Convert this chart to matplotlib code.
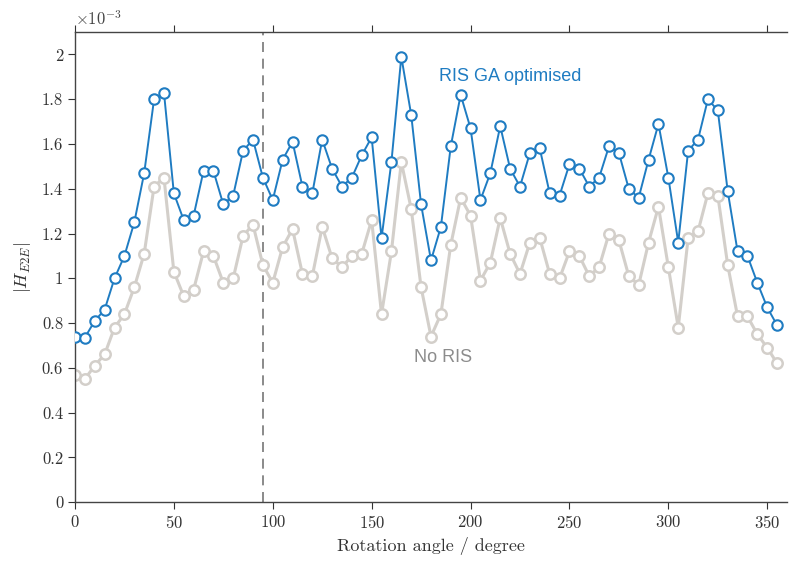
import numpy as np
import matplotlib
matplotlib.use("Agg")
import matplotlib.pyplot as plt
from matplotlib.ticker import FuncFormatter

plt.rcParams['font.family'] = 'cmr10'
plt.rcParams['mathtext.fontset'] = 'cm'
plt.rcParams['axes.formatter.use_mathtext'] = True

# rotation angle in degrees, 5 degree steps
angle = np.arange(0, 360, 5)

# |H_E2E| in units of 1e-3
ris_ga = [0.74, 0.735, 0.81, 0.86, 1.00, 1.10, 1.25, 1.47, 1.80, 1.83,
          1.38, 1.26, 1.28, 1.48, 1.48, 1.33, 1.37, 1.57, 1.62, 1.45,
          1.35, 1.53, 1.61, 1.41, 1.38, 1.62, 1.49, 1.41, 1.45, 1.55,
          1.63, 1.18, 1.52, 1.99, 1.73, 1.33, 1.08, 1.23, 1.59, 1.82,
          1.67, 1.35, 1.47, 1.68, 1.49, 1.41, 1.56, 1.58, 1.38, 1.37,
          1.51, 1.49, 1.41, 1.45, 1.59, 1.56, 1.40, 1.36, 1.53, 1.69,
          1.45, 1.16, 1.57, 1.62, 1.80, 1.75, 1.39, 1.12, 1.10, 0.98,
          0.87, 0.79]
no_ris = [0.57, 0.55, 0.61, 0.66, 0.78, 0.84, 0.96, 1.11, 1.41, 1.45,
          1.03, 0.92, 0.95, 1.12, 1.10, 0.98, 1.00, 1.19, 1.24, 1.06,
          0.98, 1.14, 1.22, 1.02, 1.01, 1.23, 1.09, 1.05, 1.10, 1.11,
          1.26, 0.84, 1.12, 1.52, 1.31, 0.96, 0.74, 0.84, 1.15, 1.36,
          1.28, 0.99, 1.07, 1.27, 1.11, 1.02, 1.16, 1.18, 1.02, 1.00,
          1.12, 1.10, 1.01, 1.05, 1.20, 1.17, 1.01, 0.97, 1.16, 1.32,
          1.05, 0.78, 1.18, 1.21, 1.38, 1.37, 1.06, 0.83, 0.83, 0.75,
          0.69, 0.62]
ris_ga = np.array(ris_ga) * 1e-3
no_ris = np.array(no_ris) * 1e-3

marker_angle = 95

blue = '#1f7cc2'
grey = '#d3cfca'

fig = plt.figure(figsize=(7.89, 5.63), dpi=100)
ax = fig.add_axes([0.095, 0.108, 0.9025, 0.835])

ax.plot(angle, no_ris, '-o', color=grey, lw=2.2, ms=7.5, mfc='white',
        mec=grey, mew=1.8, zorder=2)
ax.plot(angle, ris_ga, '-o', color=blue, lw=1.4, ms=7.5, mfc='white',
        mec=blue, mew=1.5, zorder=3)
ax.axvline(marker_angle, color='#777777', ls=(0, (6, 4)), lw=1.2, zorder=1)

ax.text(220, 1.9e-3, 'RIS GA optimised', color=blue, fontsize=13,
        family='Liberation Sans', ha='center', va='center')
ax.text(186, 0.646e-3, 'No RIS', color='#8c8c8c', fontsize=13,
        family='Liberation Sans', ha='center', va='center')

ax.set_xlim(0, 360)
ax.set_ylim(0, 2.1e-3)
ax.set_xticks(np.arange(0, 351, 50))
ax.set_yticks(np.arange(0, 2.01e-3, 0.2e-3))
ax.yaxis.set_major_formatter(FuncFormatter(lambda v, p: '%g' % round(v * 1e3, 2)))
ax.text(0, 1.008, r'$\times10^{-3}$', transform=ax.transAxes, fontsize=12,
        color='#444444', va='bottom', ha='left')

ax.tick_params(direction='out', top=True, right=False, labelsize=12,
               colors='#333333', length=5)
ax.tick_params(axis='x', labeltop=False)
for s in ['left', 'bottom', 'top']:
    ax.spines[s].set_color('#444444')
    ax.spines[s].set_linewidth(1.0)
ax.spines['right'].set_visible(False)

ax.set_xlabel('Rotation angle / degree', fontsize=13, color='#333333', labelpad=4)
ax.set_ylabel(r'$|H_{E2E}|$', fontsize=13, color='#333333', labelpad=6)

fig.savefig('out.png', dpi=100)
